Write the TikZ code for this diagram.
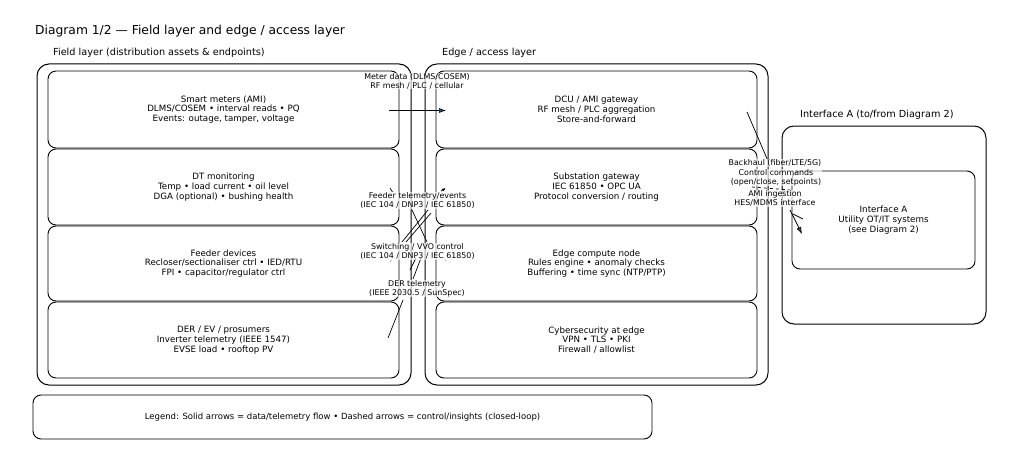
\documentclass[tikz,border=0pt]{standalone}
\usepackage{fontspec}
\setmainfont{DejaVu Sans}
\usetikzlibrary{arrows.meta}
\definecolor{arrowblue}{RGB}{40,90,150}
\tikzset{
  cluster/.style={draw, line width=1pt, rounded corners=12pt, inner sep=0pt},
  box/.style={draw, line width=0.9pt, rounded corners=8pt, inner sep=0pt, align=center, font=\fontsize{8.7}{9.8}\selectfont},
  titletext/.style={anchor=west, font=\fontsize{12.3}{14}\selectfont, inner sep=0pt},
  headtext/.style={anchor=west, font=\fontsize{9.7}{11}\selectfont, inner sep=0pt},
  elabel/.style={align=center, font=\fontsize{7.9}{9}\selectfont, fill=white, fill opacity=0.65, text opacity=1, inner sep=0.6pt},
  flow/.style={line width=0.7pt},
  ctrl/.style={line width=0.7pt, dashed, dash pattern=on 3pt off 3pt},
  tip/.style={-{Latex[length=7pt,width=5pt,fill=arrowblue]}},
  smalltip/.style={-{Latex[length=4pt,width=3pt]}}
}
\begin{document}
\begin{tikzpicture}[x=1pt,y=-1pt]
\useasboundingbox (0,0) rectangle (1024,468);

% title and headings
\node[titletext] (title) at (35,31) {Diagram 1/2 — Field layer and edge / access layer};
\node[headtext] (fieldhead) at (53,53) {Field layer (distribution assets \& endpoints)};
\node[headtext] (edgehead) at (442,53) {Edge / access layer};
\node[headtext] (ifhead) at (800,115) {Interface A (to/from Diagram 2)};

% clusters
\node[cluster, minimum width=374pt, minimum height=321pt] (field) at (224,224.5) {};
\node[cluster, minimum width=343pt, minimum height=321pt] (edge) at (596.5,224.5) {};
\node[cluster, minimum width=204pt, minimum height=198pt] (ifc) at (884,225) {};

% field boxes
\node[box, minimum width=351pt, minimum height=77pt] (sm) at (223.5,109.5)
  {Smart meters (AMI)\\DLMS/COSEM • interval reads • PQ\\Events: outage, tamper, voltage};
\node[box, minimum width=351pt, minimum height=76pt] (dt) at (223.5,187)
  {DT monitoring\\Temp • load current • oil level\\DGA (optional) • bushing health};
\node[box, minimum width=351pt, minimum height=75pt] (fd) at (223.5,263.5)
  {Feeder devices\\Recloser/sectionaliser ctrl • IED/RTU\\FPI • capacitor/regulator ctrl};
\node[box, minimum width=351pt, minimum height=76pt] (der) at (223.5,340)
  {DER / EV / prosumers\\Inverter telemetry (IEEE 1547)\\EVSE load • rooftop PV};

% edge boxes
\node[box, minimum width=321pt, minimum height=77pt] (dcu) at (596.5,109.5)
  {DCU / AMI gateway\\RF mesh / PLC aggregation\\Store-and-forward};
\node[box, minimum width=321pt, minimum height=76pt] (sub) at (596.5,187)
  {Substation gateway\\IEC 61850 • OPC UA\\Protocol conversion / routing};
\node[box, minimum width=321pt, minimum height=75pt] (ecn) at (596.5,263.5)
  {Edge compute node\\Rules engine • anomaly checks\\Buffering • time sync (NTP/PTP)};
\node[box, minimum width=321pt, minimum height=76pt] (cyb) at (596.5,340)
  {Cybersecurity at edge\\VPN • TLS • PKI\\Firewall / allowlist};

% interface box
\node[box, minimum width=183pt, minimum height=98pt] (util) at (883.5,220)
  {Interface A\\Utility OT/IT systems\\(see Diagram 2)};

% legend
\node[box, minimum width=619pt, minimum height=44pt, font=\fontsize{8.5}{9.5}\selectfont] (legend) at (342.5,417)
  {Legend: Solid arrows = data/telemetry flow • Dashed arrows = control/insights (closed-loop)};

% connector fragments (coordinates)
\coordinate (m1) at (389,110.5);
\coordinate (m2) at (446,110.5);
\coordinate (f1) at (412,210);
\coordinate (f2) at (427,242);
\coordinate (f3) at (428,210);
\coordinate (f4) at (402,242);
\coordinate (f5) at (431,213);
\coordinate (f6) at (406,242);
\coordinate (t1) at (390,188);
\coordinate (t2) at (392.5,192);
\coordinate (t3) at (441,191);
\coordinate (t4) at (446,188);
\coordinate (s1) at (421,258);
\coordinate (s2) at (413,279);
\coordinate (s3) at (416,258);
\coordinate (s4) at (410,270);
\coordinate (s5) at (392,259);
\coordinate (s6) at (390,262);
\coordinate (s7) at (444,258);
\coordinate (s8) at (446,261);
\coordinate (d1) at (403,300);
\coordinate (d2) at (388,338);
\coordinate (b1) at (747,112);
\coordinate (b2) at (768,161);
\coordinate (c1) at (752,187);
\coordinate (c2) at (790,190);
\coordinate (a1) at (790,210);
\coordinate (a2) at (802,234);
\coordinate (a3) at (793,214);
\coordinate (a4) at (803,219);

\draw[flow, tip] (m1) -- (m2);
\draw[flow] (f1) -- (f2);
\draw[flow] (f3) -- (f4);
\draw[flow] (f5) -- (f6);
\draw[flow] (t1) -- (t2);
\draw[flow, smalltip] (t3) -- (t4);
\draw[flow] (s1) -- (s2);
\draw[flow] (s3) -- (s4);
\draw[flow, black!35] (s5) -- (s6);
\draw[flow, black!35] (s7) -- (s8);
\draw[flow] (d1) -- (d2);
\draw[flow] (b1) -- (b2);
\draw[ctrl] (c1) -- (c2);
\draw[flow, tip] (a1) -- (a2);
\draw[flow] (a3) -- (a4);

% edge labels
\node[elabel] (lmeter) at (417,81) {Meter data (DLMS/COSEM)\\RF mesh / PLC / cellular};
\node[elabel] (lfeed) at (417.5,200.5) {Feeder telemetry/events\\(IEC 104 / DNP3 / IEC 61850)};
\node[elabel] (lsw) at (417.5,251.5) {Switching / VVO control\\(IEC 104 / DNP3 / IEC 61850)};
\node[elabel] (lder) at (417,288.5) {DER telemetry\\(IEEE 2030.5 / SunSpec)};
\node[elabel] (lback) at (775,163) {Backhaul (fiber/LTE/5G)};
\node[elabel] (lctrl) at (776,177.5) {Control commands\\(open/close, setpoints)};
\node[elabel] (lami) at (775,198.5) {AMI ingestion\\HES/MDMS interface};
\end{tikzpicture}
\end{document}
